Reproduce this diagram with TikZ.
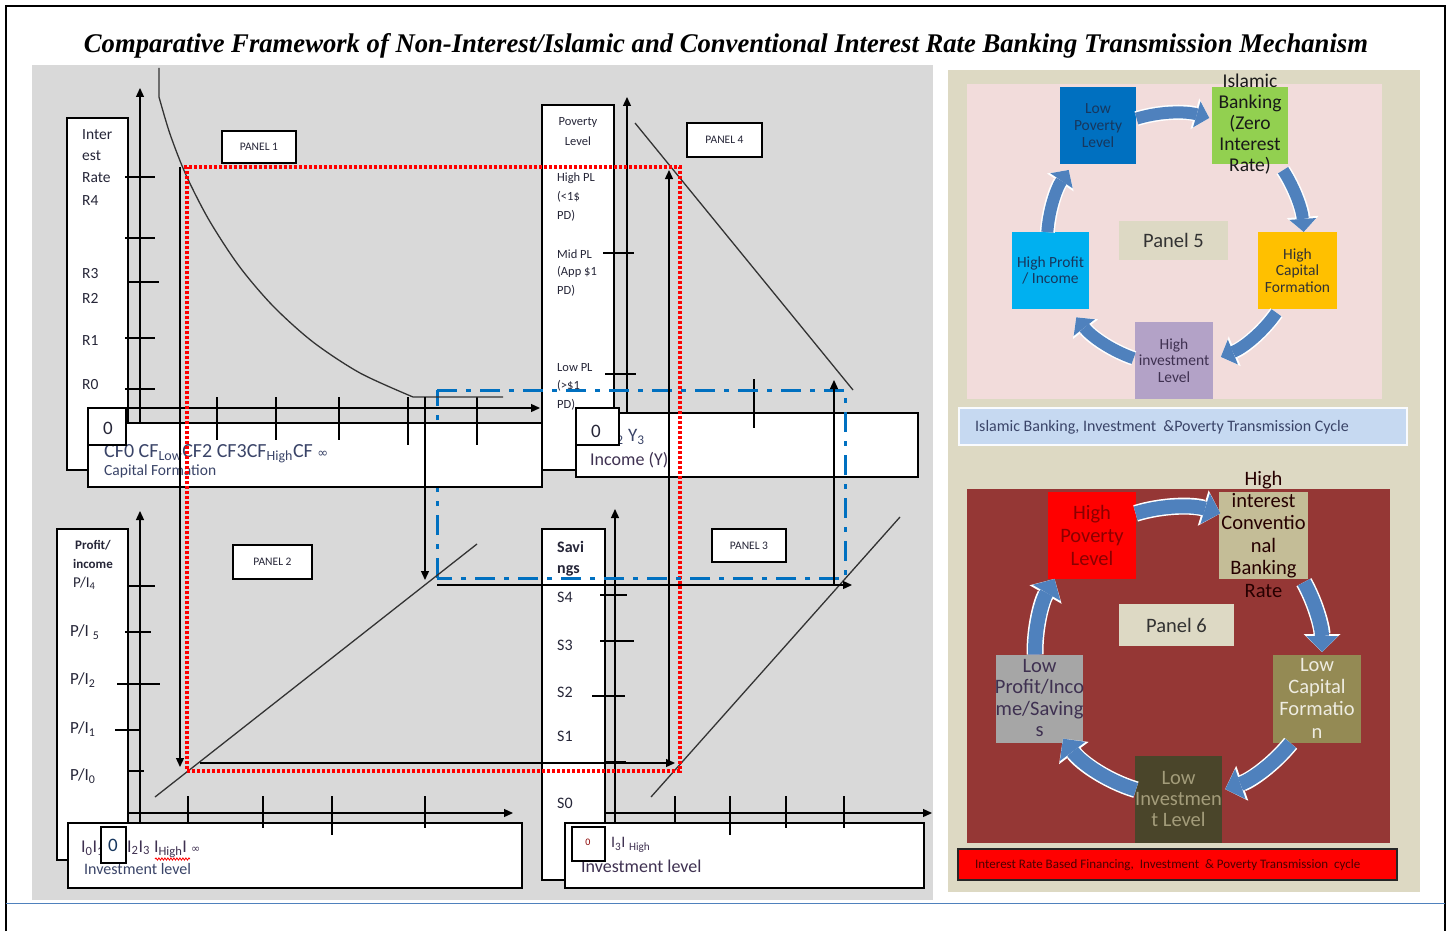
\documentclass[tikz,border=0pt]{standalone}
\usepackage{fontspec}
\usepackage{graphicx}
\setmainfont{Carlito}
\newfontfamily\titlefont{Liberation Serif}
\newfontfamily\symfont{DejaVu Sans}
\usetikzlibrary{arrows.meta,decorations.pathmorphing}

\definecolor{chartgray}{HTML}{D9D9D9}
\definecolor{sidebeige}{HTML}{DDD9C3}
\definecolor{cyclepink}{HTML}{F2DCDB}
\definecolor{cyclered}{HTML}{953735}
\definecolor{pathblue}{HTML}{0070C0}
\definecolor{flowblue}{HTML}{4F81BD}
\definecolor{labelink}{HTML}{262638}
\definecolor{softink}{HTML}{3A4468}
\definecolor{capblue}{HTML}{C6D9F1}
\definecolor{navyink}{HTML}{17375E}
\definecolor{lowpov}{HTML}{0070C0}
\definecolor{islgreen}{HTML}{92D050}
\definecolor{capgold}{HTML}{FFC000}
\definecolor{invlilac}{HTML}{B3A2C7}
\definecolor{profcyan}{HTML}{00B0F0}
\definecolor{tagbeige}{HTML}{DDD9C4}
\definecolor{ratetan}{HTML}{C4BD97}
\definecolor{olive}{HTML}{948A54}
\definecolor{darkolive}{HTML}{4A452A}
\definecolor{midgray}{HTML}{A6A6A6}
\definecolor{plum}{HTML}{3F3151}
\definecolor{deepred}{HTML}{8B0000}
\definecolor{paletan}{HTML}{EEECE1}
\definecolor{dullolive}{HTML}{A39C7A}

\newcommand\pxsize[2]{\fontsize{#1}{#2}\selectfont}

\tikzset{
  axisline/.style={line width=1.3pt, -{Triangle[length=9pt,width=8pt]}},
  tickline/.style={line width=1.1pt},
  flowline/.style={line width=1.3pt, -{Triangle[length=9pt,width=8pt]}},
  curveline/.style={line width=1.3pt, draw=black!80},
  whitebox/.style={draw=black, fill=white, line width=1.2pt},
  tagbox/.style={draw=black, fill=white, line width=1.5pt, inner sep=0pt,
                 font=\pxsize{11.5}{13}, text=labelink},
  axislabel/.style={anchor=west, inner sep=0pt, text=labelink, font=\pxsize{15.5}{17}},
  smalllabel/.style={anchor=west, inner sep=0pt, text=labelink, font=\pxsize{12.5}{14}},
  zerolabel/.style={inner sep=0pt},
  reddots/.style={draw=red, line width=3.2pt, dash pattern=on 2.6pt off 2.4pt},
  bluepath/.style={draw=pathblue, line width=3pt, dash pattern=on 20pt off 9pt on 5pt off 9pt},
  cyclebox/.style={rectangle, inner sep=0pt},
  cycletext/.style={align=center, inner sep=0pt},
  flowfive/.style={draw=flowblue, line width=12pt,
     -{Triangle[length=13pt,width=27pt,line width=0pt]},
     preaction={draw=white, line width=15pt, -{Triangle[length=15pt,width=32pt,line width=0pt]}}},
  flowsix/.style={draw=flowblue, line width=14pt,
     -{Triangle[length=16pt,width=32pt,line width=0pt]},
     preaction={draw=white, line width=17pt, -{Triangle[length=18pt,width=37pt,line width=0pt]}}},
}

\begin{document}
\begin{tikzpicture}[x=1pt, y=-1pt]
\useasboundingbox (0,0) rectangle (1450,931);
\fill[white] (0,0) rectangle (1450,931);

% ---------- backgrounds and frame ----------
\fill[chartgray] (32,65) rectangle (933,900);
\fill[sidebeige] (948,70) rectangle (1420,892);
\draw[line width=2.2pt] (6,931) -- (6,6) -- (1445,6) -- (1445,931);
\draw[flowblue, line width=1pt] (6,903) -- (1445,903);

\node[anchor=base, inner sep=0pt] (title) at (726,53)
  {\resizebox{1284pt}{19pt}{\titlefont\bfseries\itshape Comparative Framework of Non-Interest/Islamic and Conventional Interest Rate Banking Transmission Mechanism}};

% ---------- blue path, left leg (runs under the label boxes) ----------
\draw[bluepath] (437,578) -- (437,390);

% ================= PANEL 1 : interest rate vs capital formation =================
\draw[whitebox] (67,118) rectangle (128,470);
\draw[whitebox] (88,423) rectangle (542,487);
\node[axislabel] at (82,135) {Inter};
\node[axislabel] at (82,156) {est};
\node[axislabel] at (82,178) {Rate};
\node[axislabel] at (82,201) {R4};
\node[axislabel] at (82,274) {R3};
\node[axislabel] at (82,298) {R2};
\node[axislabel] at (82,341) {R1};
\node[axislabel] at (82,385) {R0};
\node[anchor=base west, inner sep=0pt, text=softink, font=\pxsize{20}{22}] at (104,457)
  {CF0 CF\textsubscript{Low}CF2 CF3CF\textsubscript{High}CF {\symfont\pxsize{13}{14}∞}};
\node[anchor=west, inner sep=0pt, text=softink, font=\pxsize{15.5}{17}] at (104,471) {Capital Formation};
\draw[whitebox] (88,408) rectangle (126,445);
\node[zerolabel, text=labelink, font=\pxsize{19}{21}] at (108,428) {0};

\draw[axisline] (140,423) -- (140,88);
\draw[axisline] (128,408) -- (540,408);
\foreach \yy/\xa/\xb in {177/125/155, 238/125/155, 282/128/159, 338/125/155, 389/125/155}
  \draw[tickline] (\xa,\yy) -- (\xb,\yy);
\foreach \xx/\yb in {217/440, 276/440, 339/440, 408/445, 477/445}
  \draw[tickline] (\xx,397) -- (\xx,\yb);
\draw[curveline] (159,68) -- plot[smooth] coordinates {(159,97) (170,134) (186,175) (209,220) (239,266) (273,306) (313,342) (360,373) (413,397)} -- (503,397);
\node[tagbox, minimum width=74pt, minimum height=32pt] (tag1) at (259,147) {PANEL 1};

% ================= PANEL 4 : income vs poverty level =================
\draw[whitebox] (542,105) rectangle (614,470);
\draw[whitebox] (576,413) rectangle (918,477);
\node[smalllabel, anchor=center] at (578,122) {Poverty};
\node[smalllabel, anchor=center] at (578,141) {Level};
\foreach \yy/\tx in {178/High PL, 197/(<1\$, 216/PD), 254/Mid PL, 272/(App \$1, 291/PD), 368/Low PL, 386/(>\$1, 405/PD)}
  \node[smalllabel] at (557,\yy) {\tx};
\node[anchor=west, inner sep=0pt, text=softink, font=\pxsize{19}{21}] at (607,437) {Y\textsubscript{2} Y\textsubscript{3}};
\node[anchor=west, inner sep=0pt, text=plum, font=\pxsize{18}{20}] at (590,460) {Income (Y)};
\draw[whitebox] (576,408) rectangle (619,445);
\node[zerolabel, text=labelink, font=\pxsize{19}{21}] at (596,431) {0};

\draw[axisline] (627,413) -- (627,97);
\draw[tickline] (603,253) -- (634,253);
\draw[tickline] (605,374) -- (636,374);
\draw[tickline] (754,379) -- (754,428);
\draw[curveline] (635,123) -- (853,390);
\node[tagbox, minimum width=75pt, minimum height=34pt] (tag4) at (724.5,140) {PANEL 4};

% ================= PANEL 2 : investment vs profit/income =================
\draw[whitebox] (57,529) rectangle (128,860);
\draw[whitebox] (68,823) rectangle (522,888);
\node[smalllabel, anchor=center, font=\pxsize{13}{15}\bfseries] at (93,545) {Profit/};
\node[smalllabel, anchor=center, font=\pxsize{13}{15}\bfseries] at (93,564) {income};
\node[axislabel, font=\pxsize{15}{17}] at (73,583) {P/I\textsubscript{4}};
\node[axislabel, font=\pxsize{17}{19}] at (70,632) {P/I \textsubscript{5}};
\node[axislabel, font=\pxsize{17}{19}] at (70,680) {P/I\textsubscript{2}};
\node[axislabel, font=\pxsize{17}{19}] at (70,729) {P/I\textsubscript{1}};
\node[axislabel, font=\pxsize{17}{19}] at (70,776) {P/I\textsubscript{0}};
\node[anchor=west, inner sep=0pt, text=plum, font=\pxsize{18}{20}] at (81,848) {I\textsubscript{0}I\textsubscript{1}};
\node[anchor=west, inner sep=0pt, text=plum, font=\pxsize{18}{20}] at (127,849) {I\textsubscript{2}I\textsubscript{3} I\textsubscript{High}I {\symfont\pxsize{11}{12}∞}};
\draw[red, line width=0.8pt, decorate, decoration={snake, amplitude=1.1pt, segment length=3pt}] (155,859) -- (190,859);
\node[anchor=west, inner sep=0pt, text=softink, font=\pxsize{16}{18}] at (84,869) {Investment level};
\draw[whitebox] (101,827) rectangle (126,863);
\node[zerolabel, text=navyink, font=\pxsize{19}{21}] at (113,845) {0};

\draw[axisline] (140,823) -- (140,511);
\draw[axisline] (128,813) -- (513,813);
\foreach \yy/\xa/\xb in {586/129/155, 632/125/151, 684/117/160, 730/115/141, 771/129/144}
  \draw[tickline] (\xa,\yy) -- (\xb,\yy);
\foreach \xx/\yb in {188/823, 263/828, 332/835, 425/828}
  \draw[tickline] (\xx,796) -- (\xx,\yb);
\draw[curveline] (155,797) -- (477,544);
\node[tagbox, minimum width=79pt, minimum height=34pt] (tag2) at (272.5,562) {PANEL 2};

% ================= PANEL 3 : investment vs savings =================
\draw[whitebox] (542,529) rectangle (605,880);
\draw[whitebox] (565,823) rectangle (924,888);
\node[axislabel, font=\pxsize{16}{18}\bfseries] at (557,547) {Savi};
\node[axislabel, font=\pxsize{16}{18}\bfseries] at (557,571) {ngs};
\foreach \yy/\tx in {597/S4, 645/S3, 692/S2, 736/S1, 803/S0}
  \node[axislabel, font=\pxsize{16}{18}] at (557,\yy) {\tx};
\node[anchor=west, inner sep=0pt, text=plum, font=\pxsize{16}{18}] at (611,845) {I\textsubscript{3}I \textsubscript{High}};
\node[anchor=west, inner sep=0pt, text=plum, font=\pxsize{18}{20}] at (581,866) {Investment level};
\draw[whitebox] (572,827) rectangle (605,861);
\node[zerolabel, text=deepred, font=\pxsize{10}{11}] at (588,842) {0};

\draw[axisline] (615,823) -- (615,509);
\draw[axisline] (605,813) -- (932,813);
\foreach \yy/\xa/\xb in {595/600/627, 641/600/634, 696/592/625}
  \draw[tickline] (\xa,\yy) -- (\xb,\yy);
\draw[line width=2pt] (605,762) -- (626,762);
\foreach \xx/\yb in {675/823, 730/835, 786/828, 844/828}
  \draw[tickline] (\xx,796) -- (\xx,\yb);
\draw[curveline] (651,797) -- (900,517);
\node[tagbox, minimum width=74pt, minimum height=33pt] (tag3) at (749,545.5) {PANEL 3};

% ---------- transmission paths across the four quadrants ----------
\draw[reddots] (184,167) -- (680,167) -- (680,771) -- (187,771) -- (187,167);
\draw[bluepath] (437,390) -- (845,390) -- (845,578) -- (437,578);

\draw[flowline] (180,167) -- (180,767);
\draw[flowline] (425,397) -- (425,580);
\draw[flowline] (200,763) -- (675,763);
\draw[flowline] (669,763) -- (669,170);
\draw[flowline] (437,585) -- (852,585);
\draw[flowline] (834,585) -- (834,380);

% ================= PANEL 5 : Islamic banking cycle =================
\fill[cyclepink] (967,84) rectangle (1382,399);
\coordinate (c5) at (1174,241);
\node[cyclebox, fill=lowpov, minimum width=76pt, minimum height=77pt] (lp) at (1098,125.5) {};
\node[cyclebox, fill=islgreen, minimum width=76pt, minimum height=77pt] (ib) at (1250,125.5) {};
\node[cyclebox, fill=capgold, minimum width=79pt, minimum height=77pt] (hc) at (1297.5,270.5) {};
\node[cyclebox, fill=invlilac, minimum width=78pt, minimum height=77pt] (hi) at (1174,360.5) {};
\node[cyclebox, fill=profcyan, minimum width=77pt, minimum height=77pt] (hp) at (1050.5,270.5) {};
\node[cyclebox, fill=tagbeige, minimum width=109pt, minimum height=39pt] (p5) at (1173.5,240.5) {};

\draw[flowfive] ([shift={(-107:128)}]c5) arc[start angle=-107, end angle=-74, radius=128];
\draw[flowfive] ([shift={(-33:130)}]c5) arc[start angle=-33, end angle=-4, radius=130];
\draw[flowfive] ([shift={(35:125)}]c5) arc[start angle=35, end angle=68, radius=125];
\draw[flowfive] ([shift={(109:124)}]c5) arc[start angle=109, end angle=142, radius=124];
\draw[flowfive] ([shift={(184:127)}]c5) arc[start angle=184, end angle=214, radius=127];

\node[cycletext, text=navyink, font=\pxsize{15.5}{17}] at (lp) {Low\\Poverty\\Level};
\node[cycletext, text=black!90, font=\pxsize{19.5}{21}] at (1250,124) {Islamic\\Banking\\(Zero\\Interest\\Rate)};
\node[cycletext, text=black!80, font=\pxsize{15.5}{16.5}] at (hc) {High\\Capital\\Formation};
\node[cycletext, text=plum, font=\pxsize{15.5}{16.5}] at (hi) {High\\investment\\Level};
\node[cycletext, text=navyink, font=\pxsize{15.5}{16}] at (hp) {High Profit\\/ Income};
\node[cycletext, text=black!80, font=\pxsize{20.5}{22}] at (p5) {Panel 5};

\node[cyclebox, draw=white!90!capblue, line width=1.5pt, fill=capblue, minimum width=448pt, minimum height=37pt] (cap5) at (1183,426.5) {};
\node[anchor=west, inner sep=0pt, text=softink, font=\pxsize{16}{18}] at (975,427) {Islamic Banking, Investment \ \&Poverty Transmission Cycle};

% ================= PANEL 6 : interest-based banking cycle =================
\fill[cyclered] (967,489) rectangle (1390,843);
\coordinate (c6) at (1178,652);
\node[cyclebox, fill=red, minimum width=88pt, minimum height=87pt] (hpl) at (1092,535.5) {};
\node[cyclebox, fill=ratetan, minimum width=89pt, minimum height=87pt] (hir) at (1263.5,535.5) {};
\node[cyclebox, fill=olive, minimum width=88pt, minimum height=88pt] (lcf) at (1317,699) {};
\node[cyclebox, fill=darkolive, minimum width=87pt, minimum height=87pt] (lil) at (1178.5,799.5) {};
\node[cyclebox, fill=midgray, minimum width=87pt, minimum height=88pt] (lpi) at (1039.5,699) {};
\node[cyclebox, fill=tagbeige, minimum width=115pt, minimum height=42pt] (p6) at (1176.5,625) {};

\draw[flowsix] ([shift={(-107:145)}]c6) arc[start angle=-107, end angle=-73, radius=145];
\draw[flowsix] ([shift={(-29:144)}]c6) arc[start angle=-29, end angle=0, radius=144];
\draw[flowsix] ([shift={(39:145)}]c6) arc[start angle=39, end angle=71, radius=145];
\draw[flowsix] ([shift={(107:144)}]c6) arc[start angle=107, end angle=143, radius=144];
\draw[flowsix] ([shift={(179:143)}]c6) arc[start angle=179, end angle=210, radius=146];

\node[cycletext, text=deepred, font=\pxsize{20.5}{23}] at (hpl) {High\\Poverty\\Level};
\node[cycletext, text=black!75!red!60!black, font=\pxsize{20.5}{22.4}] at (1263.5,534) {High\\interest\\Conventio\\nal\\Banking\\Rate};
\node[cycletext, text=paletan, font=\pxsize{20.5}{22.3}] at (1317,698) {Low\\Capital\\Formatio\\n};
\node[cycletext, text=dullolive, font=\pxsize{20.5}{21}] at (1178.5,799) {Low\\Investmen\\t Level};
\node[cycletext, text=plum, font=\pxsize{20.5}{21.3}] at (1039.5,698) {Low\\Profit/Inco\\me/Saving\\s};
\node[cycletext, text=black!80, font=\pxsize{20.5}{22}] at (p6) {Panel 6};

\node[cyclebox, draw=black!85, line width=1.5pt, fill=red, minimum width=439pt, minimum height=31pt] (cap6) at (1177.5,864.5) {};
\node[anchor=west, inner sep=0pt, text=black!70!red, font=\pxsize{13}{15}] at (975,865) {Interest Rate Based Financing, \ Investment \ \& Poverty Transmission \ cycle};

\end{tikzpicture}
\end{document}
